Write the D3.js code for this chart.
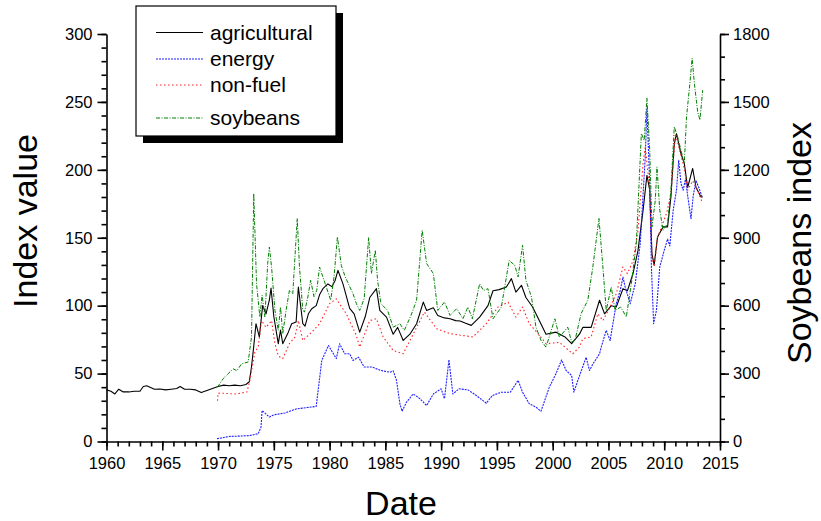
<!DOCTYPE html>
<html>
<head>
<meta charset="utf-8">
<script src="https://cdn.jsdelivr.net/npm/d3@7"></script>
<style>
  html, body { margin: 0; padding: 0; background: #fff; }
  svg { display: block; }
  text { font-family: "Liberation Sans", Arial, sans-serif; }
</style>
</head>
<body>
<svg id="chart" width="821" height="521"></svg>
<script>
// Commodity index readings: [decimal year, value]
const agricultural = [
  [1960.0,38],[1960.4,37],[1960.75,35],[1961.1,38.5],[1961.5,36.5],[1962.0,36.5],[1962.5,37],
  [1963.0,37],[1963.3,40.5],[1963.6,41],[1963.9,40],[1964.3,38.5],[1964.8,38.7],[1965.3,38],
  [1965.8,38.5],[1966.3,39],[1966.6,40.5],[1967.0,38.5],[1967.5,38.5],[1968.0,38],[1968.5,36],
  [1969.0,37.5],[1969.5,39],[1970.0,40.5],[1970.5,41.5],[1971.0,41],[1971.5,41.5],[1972.0,41],
  [1972.5,42],[1972.8,44],[1973.0,55],[1973.2,70],[1973.4,86.7],[1973.7,77],[1974.0,100],
  [1974.3,94],[1974.6,104],[1974.75,113],[1975.0,92],[1975.4,72],[1975.6,82],[1975.8,72],
  [1976.3,80.5],[1976.6,86.7],[1977.0,88],[1977.2,113.7],[1977.6,86.7],[1977.8,85],[1978.1,94],
  [1978.4,97.7],[1978.8,100],[1979.1,108],[1979.4,112.5],[1979.85,116],[1980.2,114],[1980.5,118.6],
  [1980.75,126],[1981.2,116],[1981.8,98],[1982.2,94],[1982.7,80.5],[1983.2,92],[1983.6,106],
  [1984.2,112.5],[1984.5,96.5],[1985.1,91.6],[1985.7,79],[1986.1,84],[1986.6,74.4],[1987.2,79],
  [1987.8,86.7],[1988.4,102.6],[1988.7,96.5],[1989.3,98.5],[1989.7,92.8],[1990.3,91],[1990.8,90.4],
  [1991.3,89],[1991.7,88.7],[1992.2,87],[1992.7,85.5],[1993.45,91.6],[1994.2,100],[1994.65,111],
  [1995.2,111.8],[1995.85,113.7],[1996.3,119.9],[1996.7,110],[1997.2,115],[1997.6,106],[1998.2,99],
  [1998.8,89],[1999.4,79],[2000.3,80.5],[2001.1,77],[2001.7,72],[2002.4,79],[2002.7,84],
  [2003.45,84],[2004.2,104],[2004.65,94],[2005.25,100],[2005.7,99],[2006.3,112.5],[2006.7,111],
  [2007.2,123.5],[2007.65,140.7],[2008.1,170],[2008.45,196],[2008.7,185],[2008.9,138],[2009.1,130],
  [2009.4,150.6],[2009.9,158],[2010.3,158],[2010.6,180],[2010.9,219],[2011.1,226.7],[2011.5,212],
  [2011.8,204.6],[2012.1,187],[2012.55,201],[2012.85,187],[2013.3,180],[2013.45,180]
];

const energy = [
  [1969.9,2],[1971.0,3.7],[1972.0,4],[1972.85,4.4],[1973.6,5.7],[1973.85,10.5],[1973.95,22.8],
  [1974.6,18],[1975.0,19.6],[1976.0,21],[1977.0,24],[1978.0,25],[1978.8,25.8],[1979.3,59.7],
  [1979.9,70.7],[1980.6,61],[1980.9,72],[1981.35,64.6],[1981.8,64.6],[1982.1,59.7],[1982.6,62],
  [1983.1,54.8],[1983.8,54.8],[1984.6,52.3],[1985.4,51],[1985.7,52],[1986.0,45],[1986.3,27.8],
  [1986.5,22.3],[1986.9,29],[1987.5,35],[1988.1,31.5],[1988.7,26.5],[1989.3,35],[1990.0,38.8],
  [1990.3,31.5],[1990.7,60.2],[1991.05,35],[1991.6,38.8],[1992.4,38],[1993.15,33.9],[1994.05,28.2],
  [1994.6,33.9],[1995.4,36.3],[1996.2,36.3],[1996.9,45],[1997.3,36.3],[1997.9,27.8],[1998.5,25.3],
  [1998.95,22.3],[1999.7,40],[2000.3,50],[2000.8,60],[2001.2,52.3],[2001.7,48.6],[2001.9,36.3],
  [2002.3,46],[2003.0,62],[2003.3,52.3],[2003.6,57],[2004.2,64.6],[2004.35,69.5],[2004.8,81.8],
  [2005.15,74.4],[2005.7,101.5],[2006.05,111],[2006.3,121],[2006.5,113.7],[2006.95,101.5],
  [2007.4,116],[2007.85,145.7],[2008.3,209.5],[2008.45,245],[2008.7,190],[2008.85,128.5],
  [2009.05,86.7],[2009.3,96.5],[2009.6,128.5],[2010.0,140.7],[2010.3,149],[2010.5,144],
  [2010.8,170],[2011.1,185],[2011.3,207],[2011.5,190],[2011.7,185],[2011.9,193],[2012.1,181],
  [2012.4,164],[2012.6,181],[2012.85,192],[2013.1,187],[2013.4,180]
];

const nonFuel = [
  [1969.95,30],[1970.0,35.6],[1970.5,35.5],[1971.5,35],[1972.0,35.5],[1972.6,36.5],[1972.85,45],
  [1973.3,65.8],[1973.6,69.5],[1973.9,89],[1974.3,84],[1974.8,89],[1975.1,72],[1975.4,63],
  [1975.8,61],[1976.4,72],[1976.9,77],[1977.2,89],[1977.6,74.4],[1978.4,80.5],[1979.1,86.7],
  [1980.0,101.5],[1980.6,105],[1981.5,94],[1982.4,78],[1982.7,69.5],[1983.6,89],[1984.2,90.4],
  [1984.8,77],[1985.7,67],[1986.6,64.6],[1987.8,84],[1988.5,95.3],[1989.6,83],[1990.8,79.4],
  [1991.95,78],[1992.85,77],[1994.05,86.7],[1995.1,99],[1996.0,102.6],[1996.7,91.6],[1997.3,99],
  [1997.9,86.7],[1998.7,79.4],[1999.4,72],[2000.6,73],[2001.8,64.6],[2002.4,69.5],[2002.7,75.7],
  [2003.45,77],[2004.05,94],[2004.5,89],[2005.15,99],[2005.7,108.8],[2006.3,128.5],[2006.7,123.6],
  [2007.2,133],[2007.65,155.5],[2008.1,204.6],[2008.3,217],[2008.7,185],[2008.9,135.8],
  [2009.1,128.5],[2009.4,150],[2010.2,167.8],[2010.6,182],[2011.0,226.7],[2011.4,214],
  [2011.8,201],[2012.1,185],[2012.55,192],[2013.0,185],[2013.4,176]
];

// Soybeans are read against the right-hand axis (0-1800)
const soybeans = [
  [1969.95,240],[1970.45,277],[1971.35,321],[1971.7,313],[1972.1,343],[1972.7,351],[1973.0,461],
  [1973.2,1095],[1973.45,697],[1973.75,550],[1973.95,646],[1974.2,550],[1974.45,786],[1974.6,859],
  [1974.8,770],[1975.1,579],[1975.4,491],[1975.6,594],[1975.8,476],[1976.1,579],[1976.4,668],
  [1976.7,653],[1977.1,985],[1977.3,771],[1977.6,579],[1977.75,572],[1978.05,638],[1978.3,712],
  [1978.6,640],[1978.85,668],[1979.1,771],[1979.4,727],[1979.7,683],[1980.1,624],[1980.4,727],
  [1980.7,904],[1981.05,778],[1981.4,727],[1982.1,653],[1982.4,609],[1982.7,579],[1983.1,631],
  [1983.5,901],[1983.75,742],[1984.1,845],[1984.3,712],[1984.6,609],[1985.2,579],[1985.7,505],
  [1986.3,520],[1986.7,491],[1987.3,557],[1987.8,624],[1988.3,933],[1988.7,786],[1989.3,742],
  [1989.7,579],[1990.3,616],[1990.8,557],[1991.4,587],[1991.95,542],[1992.4,594],[1992.8,542],
  [1993.45,697],[1993.8,667],[1994.2,675],[1994.65,542],[1995.4,594],[1996.1,800],[1996.6,778],
  [1996.9,727],[1997.3,867],[1997.6,712],[1998.1,638],[1998.5,505],[1998.95,447],[1999.4,417],
  [2000.2,542],[2000.6,461],[2001.35,505],[2001.7,439],[2002.0,447],[2002.55,565],[2003.15,624],
  [2003.6,771],[2004.15,985],[2004.5,771],[2004.8,579],[2005.25,682],[2005.6,579],[2006.1,594],
  [2006.6,550],[2007.05,697],[2007.5,874],[2007.95,1361],[2008.2,1330],[2008.45,1516],
  [2008.7,1287],[2008.9,948],[2009.2,1066],[2009.35,1213],[2009.6,1022],[2009.9,933],
  [2010.3,963],[2010.6,1110],[2010.9,1390],[2011.2,1346],[2011.5,1287],[2011.8,1228],
  [2012.0,1434],[2012.3,1582],[2012.5,1693],[2012.7,1582],[2013.0,1456],[2013.2,1420],[2013.45,1552]
];

const xTicks = [1960,1965,1970,1975,1980,1985,1990,1995,2000,2005,2010,2015];
const yLeftTicks = [0,50,100,150,200,250,300];
const yRightTicks = [0,300,600,900,1200,1500,1800];
const seriesNames = ["agricultural","energy","non-fuel","soybeans"];

const FONT = "'Liberation Sans', Arial, sans-serif";
const svg = d3.select("#chart");
const plot = { left: 106.5, right: 720, top: 34, bottom: 441.5 };

const x = d3.scaleLinear().domain([1960, 2015]).range([plot.left, plot.right]);
const yL = d3.scaleLinear().domain([0, 300]).range([plot.bottom, plot.top]);
const yR = d3.scaleLinear().domain([0, 1800]).range([plot.bottom, plot.top]);

const styles = {
  "agricultural": { color: "#000000", dash: null, w: 1.1 },
  "energy":       { color: "#1f1fff", dash: "2,1", w: 1.1 },
  "non-fuel":     { color: "#ff2020", dash: "1.5,2.5", w: 1.1 },
  "soybeans":     { color: "#008000", dash: "4,1.5,1,1.5", w: 1.0 }
};

const lineL = d3.line().x(d => x(d[0])).y(d => yL(d[1]));
const lineR = d3.line().x(d => x(d[0])).y(d => yR(d[1]));

function drawSeries(data, gen, name) {
  const s = styles[name];
  svg.append("path")
    .datum(data)
    .attr("fill", "none")
    .attr("stroke", s.color)
    .attr("stroke-width", s.w)
    .attr("stroke-dasharray", s.dash)
    .attr("stroke-linejoin", "round")
    .attr("d", gen);
}

drawSeries(agricultural, lineL, "agricultural");
drawSeries(energy, lineL, "energy");
drawSeries(nonFuel, lineL, "non-fuel");
drawSeries(soybeans, lineR, "soybeans");

// Axes
const tickFont = 16.5;
function styleAxis(g) {
  g.attr("font-family", FONT);
  g.selectAll("path.domain").attr("stroke", "#000").attr("stroke-width", 1.6);
  g.selectAll(".tick line").attr("stroke", "#000").attr("stroke-width", 1.6);
  g.selectAll("text").attr("font-size", tickFont).attr("fill", "#000").attr("font-family", FONT);
}

// bottom axis, minor tick every year
const gxMinor = svg.append("g").attr("transform", `translate(0,${plot.bottom})`)
  .call(d3.axisBottom(x).tickValues(d3.range(1960, 2016, 1)).tickSize(5).tickFormat("").tickSizeOuter(0));
styleAxis(gxMinor);
const gx = svg.append("g").attr("transform", `translate(0,${plot.bottom})`)
  .call(d3.axisBottom(x).tickValues(xTicks).tickSize(9).tickPadding(7).tickFormat(d3.format("d")).tickSizeOuter(0));
styleAxis(gx);
gx.selectAll("path.domain").remove();

// left axis
const gyMinor = svg.append("g").attr("transform", `translate(${plot.left},0)`)
  .call(d3.axisLeft(yL).tickValues(d3.range(0, 301, 10)).tickSize(5).tickFormat("").tickSizeOuter(0));
styleAxis(gyMinor);
const gy = svg.append("g").attr("transform", `translate(${plot.left},0)`)
  .call(d3.axisLeft(yL).tickValues(yLeftTicks).tickSize(9).tickPadding(5).tickFormat(d3.format("d")).tickSizeOuter(0));
styleAxis(gy);
gy.selectAll("path.domain").remove();

// right axis
const gyrMinor = svg.append("g").attr("transform", `translate(${plot.right},0)`)
  .call(d3.axisRight(yR).tickValues(d3.range(0, 1801, 100)).tickSize(5).tickFormat("").tickSizeOuter(0));
styleAxis(gyrMinor);
const gyr = svg.append("g").attr("transform", `translate(${plot.right},0)`)
  .call(d3.axisRight(yR).tickValues(yRightTicks).tickSize(9).tickPadding(4).tickFormat(d3.format("d")).tickSizeOuter(0));
styleAxis(gyr);
gyr.selectAll("path.domain").remove();

// Axis titles
svg.append("text").attr("x", 401).attr("y", 515).attr("text-anchor", "middle")
  .attr("font-family", FONT).attr("font-size", 34).text("Date");
svg.append("text").attr("transform", "translate(37,221) rotate(-90)").attr("text-anchor", "middle")
  .attr("font-family", FONT).attr("font-size", 34).text("Index value");
svg.append("text").attr("transform", "translate(811,243) rotate(-90)").attr("text-anchor", "middle")
  .attr("font-family", FONT).attr("font-size", 34).text("Soybeans index");

// Legend with drop shadow
const lg = svg.append("g");
lg.append("rect").attr("x", 143).attr("y", 13).attr("width", 200).attr("height", 130).attr("fill", "#000");
lg.append("rect").attr("x", 136).attr("y", 6).attr("width", 200).attr("height", 130)
  .attr("fill", "#fff").attr("stroke", "#000").attr("stroke-width", 1.2);
const legendY = [32.5, 59, 85, 118];
seriesNames.forEach((name, i) => {
  const s = styles[name];
  lg.append("line").attr("x1", 156).attr("x2", 203).attr("y1", legendY[i]).attr("y2", legendY[i])
    .attr("stroke", s.color).attr("stroke-width", s.w).attr("stroke-dasharray", s.dash);
  lg.append("text").attr("x", 210).attr("y", legendY[i] + 7).attr("font-family", FONT)
    .attr("font-size", 21).text(name);
});
</script>
</body>
</html>
